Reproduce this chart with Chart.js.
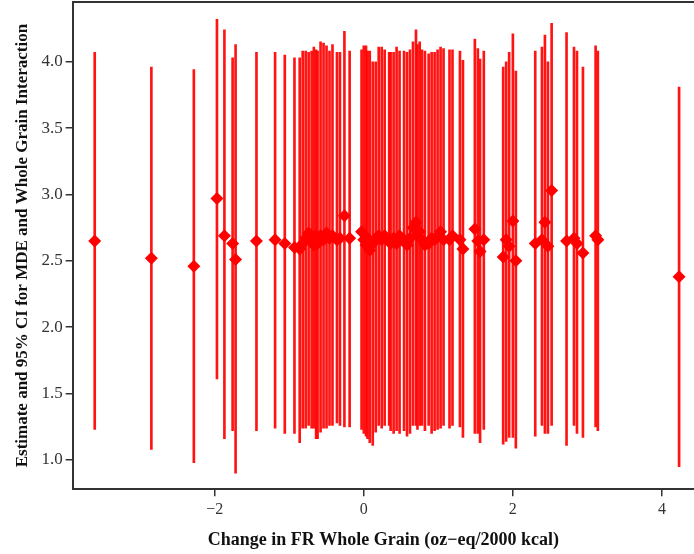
<!DOCTYPE html>
<html>
<head>
<meta charset="utf-8">
<script src="https://cdn.jsdelivr.net/npm/chart.js@4"></script>
<style>
  html, body { margin: 0; padding: 0; background: #fff; }
  #wrap { width: 694px; height: 554px; }
</style>
</head>
<body>
<div id="wrap"><canvas id="chart"></canvas></div>
<script>
// change in FR whole grain (x) for each estimate
const changes = [
  -3.61, -2.85, -2.28, -1.97, -1.87, -1.76, -1.72, -1.44, -1.19, -1.06,
  -0.93, -0.86, -0.82, -0.78, -0.74, -0.70, -0.67, -0.64, -0.62, -0.58,
  -0.54, -0.50, -0.46, -0.42, -0.36, -0.32, -0.26, -0.19, -0.03, 0.00,
  0.03, 0.05, 0.08, 0.12, 0.16, 0.20, 0.24, 0.28, 0.34, 0.36,
  0.40, 0.44, 0.48, 0.54, 0.58, 0.62, 0.66, 0.70, 0.72, 0.75,
  0.78, 0.82, 0.87, 0.91, 0.95, 0.99, 1.03, 1.07, 1.15, 1.19,
  1.29, 1.33, 1.49, 1.53, 1.56, 1.61, 1.87, 1.91, 1.95, 2.00,
  2.04, 2.30, 2.39, 2.43, 2.47, 2.52, 2.72, 2.82, 2.86, 2.94,
  3.11, 3.14, 4.23
];
const estimates = [
  2.65, 2.52, 2.46, 2.97, 2.69, 2.63, 2.51, 2.65, 2.66, 2.63,
  2.60, 2.59, 2.63, 2.67, 2.71, 2.66, 2.62, 2.69, 2.63, 2.69,
  2.66, 2.71, 2.67, 2.69, 2.66, 2.67, 2.84, 2.67, 2.72, 2.66,
  2.62, 2.67, 2.58, 2.63, 2.67, 2.69, 2.66, 2.69, 2.66, 2.63,
  2.67, 2.63, 2.69, 2.66, 2.62, 2.67, 2.75, 2.79, 2.69, 2.72,
  2.66, 2.62, 2.63, 2.67, 2.66, 2.69, 2.72, 2.66, 2.66, 2.69,
  2.66, 2.59, 2.74, 2.65, 2.57, 2.66, 2.53, 2.66, 2.61, 2.80,
  2.50, 2.63, 2.66, 2.79, 2.61, 3.03, 2.65, 2.67, 2.63, 2.56,
  2.69, 2.66, 2.38
];
const lower = [
  1.23, 1.08, 0.98, 1.61, 1.16, 1.22, 0.90, 1.22, 1.24, 1.20,
  1.20, 1.13, 1.24, 1.24, 1.26, 1.24, 1.24, 1.16, 1.16, 1.21,
  1.24, 1.24, 1.26, 1.26, 1.28, 1.26, 1.25, 1.25, 1.23, 1.20,
  1.18, 1.16, 1.13, 1.11, 1.21, 1.26, 1.24, 1.26, 1.26, 1.22,
  1.20, 1.22, 1.20, 1.22, 1.18, 1.20, 1.26, 1.26, 1.23, 1.26,
  1.26, 1.22, 1.26, 1.20, 1.22, 1.23, 1.24, 1.26, 1.24, 1.26,
  1.25, 1.17, 1.20, 1.20, 1.13, 1.23, 1.12, 1.14, 1.17, 1.17,
  1.09, 1.18, 1.26, 1.20, 1.20, 1.26, 1.11, 1.26, 1.20, 1.17,
  1.25, 1.22, 0.95
];
const upper = [
  4.07, 3.96, 3.94, 4.32, 4.24, 4.03, 4.13, 4.07, 4.07, 4.05,
  4.03, 4.03, 4.08, 4.08, 4.07, 4.08, 4.11, 4.09, 4.08, 4.15,
  4.14, 4.12, 4.08, 4.13, 4.07, 4.07, 4.23, 4.08, 4.09, 4.12,
  4.12, 4.08, 4.08, 4.00, 4.00, 4.11, 4.11, 4.09, 4.07, 4.07,
  4.07, 4.11, 4.08, 4.08, 4.07, 4.09, 4.15, 4.24, 4.13, 4.15,
  4.09, 4.08, 4.06, 4.07, 4.07, 4.09, 4.11, 4.10, 4.09, 4.09,
  4.08, 4.01, 4.17, 4.10, 4.02, 4.08, 3.96, 4.00, 4.07, 4.21,
  3.93, 4.08, 4.11, 4.20, 4.00, 4.29, 4.22, 4.11, 4.08, 3.96,
  4.12, 4.08, 3.81
];
const yTicks = [1.0, 1.5, 2.0, 2.5, 3.0, 3.5, 4.0];
const xTicks = [-2, 0, 2, 4];

const RED = 'rgb(255,0,0)';
const AXIS = '#333';
const serif = '"Liberation Serif", "DejaVu Serif", serif';

const X_MIN = -3.906, X_MAX = 4.43;
const Y_MIN = 0.78, Y_MAX = 4.45;

const intervals = changes.map((x, i) => ({ x: x, y: [lower[i], upper[i]] }));
const points = changes.map((x, i) => ({ x: x, y: estimates[i] }));

const fmtX = v => (v < 0 ? '\u2212' + Math.abs(v) : String(v));

new Chart(document.getElementById('chart'), {
  type: 'bar',
  data: {
    datasets: [
      {
        type: 'scatter',
        data: points,
        pointStyle: 'rectRot',
        pointRadius: 6.5,
        backgroundColor: RED,
        borderColor: RED,
        borderWidth: 0,
        order: 0
      },
      {
        type: 'bar',
        data: intervals,
        barThickness: 2,
        backgroundColor: 'rgba(255,0,0,0.92)',
        borderWidth: 0,
        order: 1
      }
    ]
  },
  options: {
    responsive: true,
    maintainAspectRatio: false,
    animation: false,
    layout: { autoPadding: false, padding: { top: 2, right: 0, left: 12, bottom: 3 } },
    plugins: {
      legend: { display: false },
      tooltip: { enabled: false }
    },
    scales: {
      x: {
        type: 'linear',
        min: X_MIN,
        max: X_MAX,
        offset: false,
        afterBuildTicks: axis => { axis.ticks = xTicks.map(v => ({ value: v })); },
        ticks: {
          callback: v => fmtX(v),
          color: '#333',
          font: { family: serif, size: 16 },
          padding: 4,
          maxRotation: 0
        },
        grid: { offset: false, drawOnChartArea: false, drawTicks: true, tickLength: 7, color: AXIS, lineWidth: 1.5 },
        border: { display: true, color: AXIS, width: 2 },
        title: {
          display: true,
          text: 'Change in FR Whole Grain (oz\u2212eq/2000 kcal)',
          color: '#111',
          font: { family: serif, size: 18, weight: 'bold' },
          padding: { top: 6, bottom: 0 }
        }
      },
      xTop: {
        type: 'linear',
        position: 'top',
        min: X_MIN,
        max: X_MAX,
        ticks: { display: false, padding: 0 },
        grid: { display: false, drawTicks: false, tickLength: 0 },
        border: { display: true, color: AXIS, width: 2 }
      },
      y: {
        min: Y_MIN,
        max: Y_MAX,
        afterBuildTicks: axis => { axis.ticks = yTicks.map(v => ({ value: v })); },
        // 4.0 sits well below the top, so no room is needed for its label
        afterFit: axis => { axis.paddingTop = 0; },
        ticks: {
          callback: v => v.toFixed(1),
          color: '#333',
          font: { family: serif, size: 17 },
          padding: 3
        },
        grid: { drawOnChartArea: false, drawTicks: true, tickLength: 7, color: AXIS, lineWidth: 1.5 },
        border: { display: true, color: AXIS, width: 2 },
        title: {
          display: true,
          text: 'Estimate and 95% CI for MDE and Whole Grain Interaction',
          color: '#111',
          font: { family: serif, size: 17, weight: 'bold' },
          padding: { top: 0, bottom: 6 }
        }
      }
    }
  }
});
</script>
</body>
</html>
